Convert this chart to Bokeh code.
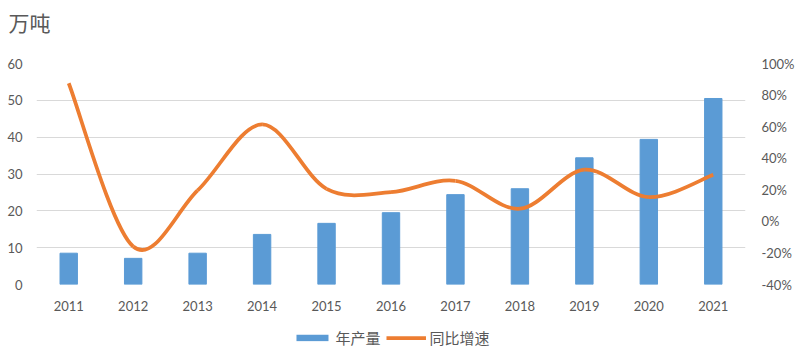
from bokeh.plotting import figure
from bokeh.layouts import column
from bokeh.models import (Range1d, LinearAxis, FixedTicker, PrintfTickFormatter,
                          Legend, LegendItem)
from bokeh.embed import file_html
from bokeh.resources import INLINE

years = ["2011", "2012", "2013", "2014", "2015", "2016", "2017", "2018", "2019", "2020", "2021"]
output = [8.5, 7.1, 8.5, 13.6, 16.6, 19.5, 24.4, 26.0, 34.4, 39.4, 50.5]
growth = [87.5, -15.9, 19.6, 61.4, 20.6, 18.5, 25.7, 8.0, 32.7, 15.3, 29.5]
left_ticks = [0, 10, 20, 30, 40, 50, 60]
right_ticks = [-40, -20, 0, 20, 40, 60, 80, 100]
unit_label = "万吨"
series_names = ["年产量", "同比增速"]

BAR = "#5b9bd5"
LINE = "#ed7d31"
TXT = "#595959"
GRID = "#d9d9d9"
LW = 3.75
W = 800


def strip(h, **kw):
    f = figure(width=W, height=h, x_range=Range1d(0, 1), y_range=Range1d(0, 1),
               output_backend="svg", toolbar_location=None, outline_line_color=None,
               min_border=0, **kw)
    f.axis.visible = False
    f.grid.visible = False
    return f


# ---- title strip: the unit label is this strip's title, drawn under its (empty) frame ----
top = strip(36, title=unit_label, title_location="below")
top.title.align = "left"
top.title.offset = -28
top.title.standoff = 0
top.title.text_font = "Noto Sans CJK SC"
top.title.text_font_size = "21px"
top.title.text_font_style = "normal"
top.title.text_color = TXT

# ---- main chart ----
xs = list(range(len(years)))

p = figure(width=W, height=282, x_range=Range1d(-0.5, len(years) - 0.5),
           y_range=Range1d(left_ticks[0], left_ticks[-1]),
           output_backend="svg", toolbar_location=None,
           min_border_left=36, min_border_right=55, min_border_top=27,
           min_border_bottom=34, outline_line_color=None)

p.extra_y_ranges = {"pct": Range1d(right_ticks[0], right_ticks[-1])}

for ax in [p.xaxis[0], p.yaxis[0]]:
    ax.axis_line_color = None
    ax.major_tick_line_color = None
    ax.minor_tick_line_color = None
    ax.major_label_text_font = "Lato"
    ax.major_label_text_font_size = "13px"
    ax.major_label_text_color = TXT

p.yaxis[0].ticker = FixedTicker(ticks=left_ticks)
p.yaxis[0].major_label_standoff = 8
p.xaxis[0].ticker = FixedTicker(ticks=xs)
p.xaxis[0].major_label_overrides = {i: y for i, y in zip(xs, years)}
p.xaxis[0].major_label_standoff = 10

rax = LinearAxis(y_range_name="pct", ticker=FixedTicker(ticks=right_ticks),
                 formatter=PrintfTickFormatter(format="%d%%"))
rax.axis_line_color = None
rax.major_tick_line_color = None
rax.minor_tick_line_color = None
rax.major_label_text_font = "Lato"
rax.major_label_text_font_size = "13px"
rax.major_label_text_color = TXT
rax.major_label_standoff = 10
p.add_layout(rax, "right")

p.xgrid.grid_line_color = None
p.ygrid.grid_line_color = GRID
p.ygrid.grid_line_width = 1

p.vbar(x=xs, top=output, width=0.27, fill_color=BAR, line_color=BAR)

# smoothed line (Catmull-Rom style cubic Bezier through the data points)
n = len(xs)
x0, y0, x1, y1, cx0, cy0, cx1, cy1 = [], [], [], [], [], [], [], []
for i in range(n - 1):
    pm = max(i - 1, 0)
    pp = min(i + 2, n - 1)
    x0.append(xs[i]); y0.append(growth[i])
    x1.append(xs[i + 1]); y1.append(growth[i + 1])
    cx0.append(xs[i] + (xs[i + 1] - xs[pm]) / 6.0)
    cy0.append(growth[i] + (growth[i + 1] - growth[pm]) / 6.0)
    cx1.append(xs[i + 1] - (xs[pp] - xs[i]) / 6.0)
    cy1.append(growth[i + 1] - (growth[pp] - growth[i]) / 6.0)
p.bezier(x0=x0, y0=y0, x1=x1, y1=y1, cx0=cx0, cy0=cy0, cx1=cx1, cy1=cy1,
         line_color=LINE, line_width=LW, y_range_name="pct")

# ---- legend strip (proxy renderers draw nothing themselves) ----
lg = strip(38)
r_bar = lg.vbar(x=[0.5], top=[0], bottom=[0], width=0.01, fill_color=BAR, line_color=None)
r_line = lg.line(x=[0.5], y=[0.5], line_color=LINE, line_width=LW)
legend = Legend(items=[LegendItem(label=series_names[0], renderers=[r_bar]),
                       LegendItem(label=series_names[1], renderers=[r_line])],
                orientation="horizontal", location="center",
                glyph_width=40, glyph_height=8, label_standoff=4, spacing=5,
                label_text_font="Noto Sans CJK SC", label_text_font_size="15px",
                label_text_color=TXT, border_line_color=None,
                background_fill_alpha=0, padding=0, margin=0)
lg.add_layout(legend, "center")

layout = column(top, p, lg, spacing=0)
open("out.html", "w").write(file_html(layout, INLINE))
